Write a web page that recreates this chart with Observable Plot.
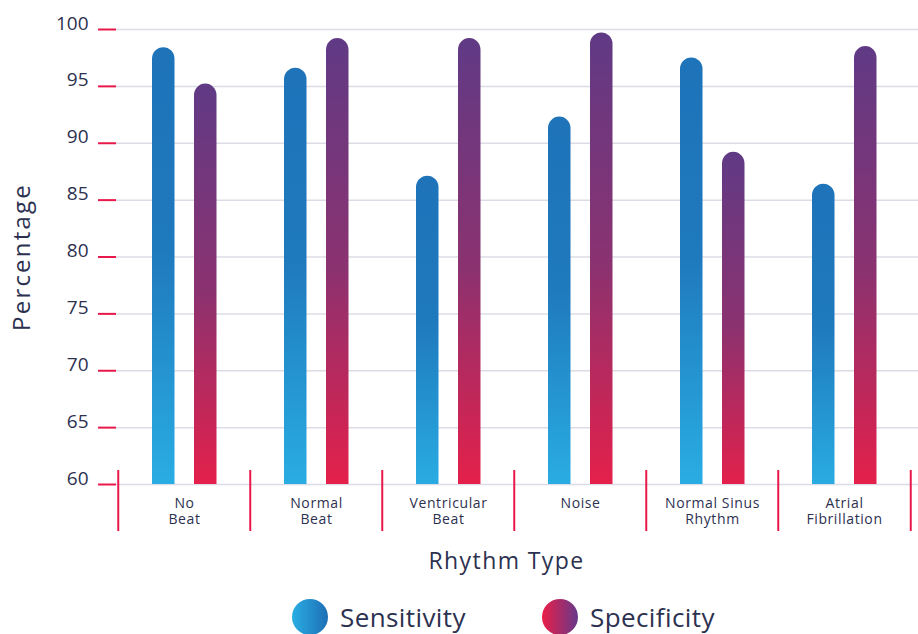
<!DOCTYPE html>
<html><head><meta charset="utf-8">
<script src="https://cdn.jsdelivr.net/npm/d3@7"></script>
<script src="https://cdn.jsdelivr.net/npm/@observablehq/plot@0.6"></script>
<style>
body{margin:0;background:#fff;font-family:"Open Sans",sans-serif;color:#2d3150;}
#chart svg{display:block;}
#legend{position:relative;width:918px;height:44px;}
.dot{position:absolute;width:36px;height:36px;border-radius:50%;top:9px;}
.lab{position:absolute;top:10px;font-size:26px;line-height:34px;letter-spacing:0.4px;color:#2d3150;}
</style></head><body>
<div id="chart"></div>
<div id="legend">
  <div class="dot" style="left:292px;background:linear-gradient(to right,#2aade3,#1e6fb5);"></div>
  <div class="lab" style="left:340px;">Sensitivity</div>
  <div class="dot" style="left:542px;background:linear-gradient(to right,#ea1e48,#67398a);"></div>
  <div class="lab" style="left:590px;">Specificity</div>
</div>
<script>
const categories = ["No\nBeat", "Normal\nBeat", "Ventricular\nBeat", "Noise", "Normal Sinus\nRhythm", "Atrial\nFibrillation"];
const sensitivity = [98.4, 96.6, 87.1, 92.3, 97.5, 86.4];
const specificity = [95.2, 99.2, 99.2, 99.7, 89.2, 98.5];
const yDomain = [60, 100];
const yTicks = [60, 65, 70, 75, 80, 85, 90, 95, 100];
const xTitle = "Rhythm Type";
const yTitle = "Percentage";

const sensData = categories.map((c, i) => ({cat: c, value: sensitivity[i]}));
const specData = categories.map((c, i) => ({cat: c, value: specificity[i]}));

const red = "#e8194a", ink = "#2d3150";
const xRange = [116, 911];
const step = (xRange[1] - xRange[0]) / categories.length;

const plot = Plot.plot({
  width: 918, height: 590,
  marginLeft: 116, marginRight: 0, marginTop: 29, marginBottom: 106,
  style: {fontFamily: "'Open Sans', sans-serif", color: ink, background: "#fff"},
  x: {domain: categories, range: xRange, padding: 0, label: null},
  y: {domain: yDomain, label: null},
  marks: [
    Plot.gridY(yTicks, {stroke: "#dcdce6", strokeOpacity: 1, strokeWidth: 1.5}),
    Plot.axisY(yTicks, {tickSize: 18, stroke: red, strokeWidth: 2, text: null, label: null}),
    Plot.axisY(yTicks, {tickSize: 0, tickPadding: 28, dy: -6, fontSize: 19, fill: ink, label: null}),
    Plot.axisX({tickSize: 0, tickPadding: 12, fontSize: 14, fill: ink, label: null, lineHeight: 1.15}),
    Plot.ruleX(categories, {x: d => d, dx: -step / 2, insetTop: 441, insetBottom: -47, stroke: red, strokeWidth: 2}),
    Plot.ruleX(categories.slice(-1), {x: d => d, dx: step / 2, insetTop: 441, insetBottom: -47, stroke: red, strokeWidth: 2}),
    Plot.barY(sensData, {x: "cat", y1: yDomain[0], y2: "value", insetLeft: 34, insetRight: step - 57, insetBottom: -14, rx: 11.5, fill: "url(#gSens)", clip: true}),
    Plot.barY(specData, {x: "cat", y1: yDomain[0], y2: "value", insetLeft: 76, insetRight: step - 99, insetBottom: -14, rx: 11.5, fill: "url(#gSpec)", clip: true}),
    Plot.text([xTitle], {frameAnchor: "bottom", dx: -11, dy: 77, fontSize: 23, fill: ink, lineAnchor: "middle", textAnchor: "middle"}),
    Plot.text([yTitle], {frameAnchor: "left", dx: -94, rotate: -90, fontSize: 24, fill: ink, lineAnchor: "middle", textAnchor: "middle"})
  ]
});

const svg = d3.select(plot);
svg.selectAll("g[aria-label='x-axis tick label']").attr("letter-spacing", "0.6px");
svg.selectAll("text").filter(function() { return this.textContent === xTitle; }).attr("letter-spacing", "1.4px");
svg.selectAll("text").filter(function() { return this.textContent === yTitle; }).attr("letter-spacing", "2.2px");
const defs = svg.insert("defs", ":first-child");
function grad(id, stops) {
  const g = defs.append("linearGradient").attr("id", id).attr("x1", 0).attr("y1", 0).attr("x2", 0).attr("y2", 1);
  stops.forEach(([o, c]) => g.append("stop").attr("offset", o).attr("stop-color", c));
}
grad("gSens", [[0, "#1e73b9"], [0.45, "#1f79bd"], [1, "#2ab0e5"]]);
grad("gSpec", [[0, "#603a85"], [0.5, "#8b3270"], [1, "#ea1f48"]]);
document.getElementById("chart").appendChild(plot);
</script>
</body></html>
